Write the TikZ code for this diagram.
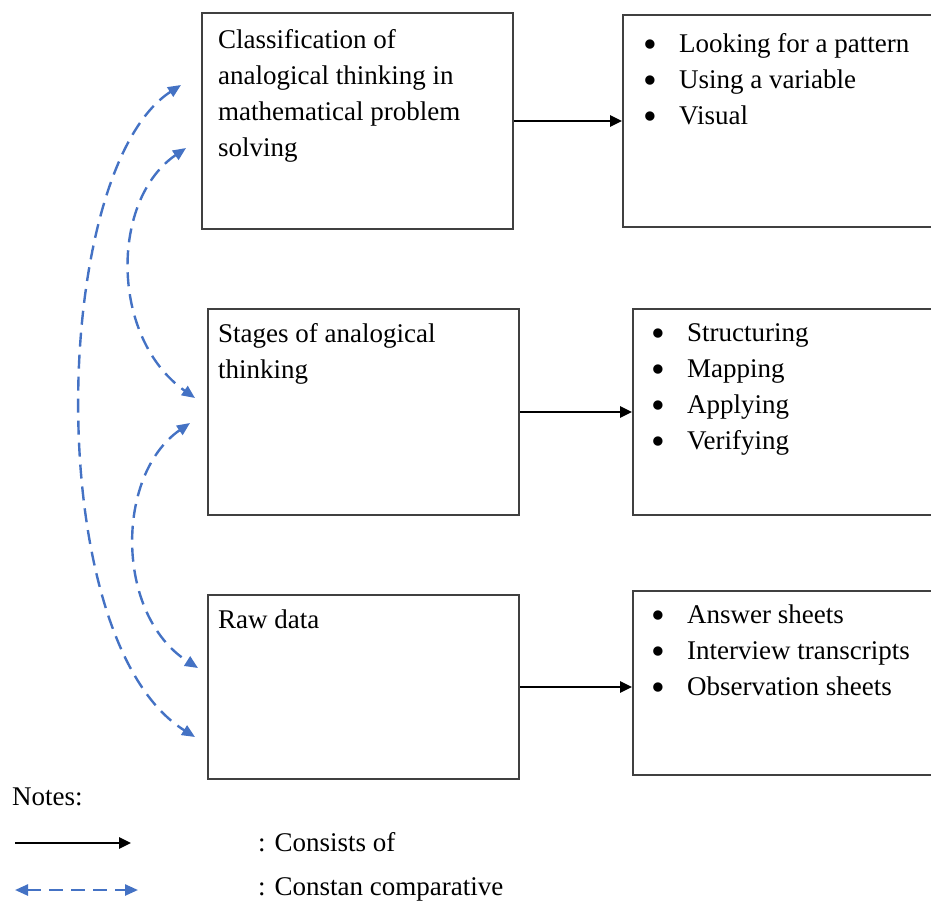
\documentclass[tikz,border=0pt]{standalone}
\usepackage{fontspec}
\setmainfont{Liberation Serif}
\usetikzlibrary{arrows.meta, positioning}
\definecolor{cmpblue}{RGB}{68,114,196}
\newcommand{\bul}{\makebox[36pt][l]{\raisebox{-5pt}{\scalebox{1.45}{\textbullet}}}}

\begin{document}
\begin{tikzpicture}[x=1pt, y=-1pt,
  box/.style={draw=black!75, line width=2pt, inner sep=0pt},
  txt/.style={anchor=north west, inner sep=0pt, align=left,
    font=\fontsize{27}{36}\selectfont},
  cons/.style={-{Triangle[length=12pt,width=11pt]}, line width=2.6pt},
  cmp/.style={{Triangle[length=13pt,width=11pt]}-{Triangle[length=13pt,width=11pt]},
    draw=cmpblue, line width=2.4pt, dash pattern=on 14pt off 8pt}]
\clip (0,0) rectangle (931,905);

% left column
\node[box, anchor=north west, minimum width=311pt, minimum height=216pt] (cls) at (201,12) {};
\node[box, anchor=north west, minimum width=311pt, minimum height=206pt] (stg) at (207,308) {};
\node[box, anchor=north west, minimum width=311pt, minimum height=184pt] (raw) at (207,594) {};

\node[txt] (clst) at (218,29) {Classification of\\analogical thinking in\\mathematical problem\\solving};
\node[txt] (stgt) at (218,323) {Stages of analogical\\thinking};
\node[txt] (rawt) at (218,610) {Raw data};

% right column
\node[box, anchor=north west, minimum width=340pt, minimum height=212pt] (pat) at (622,14) {};
\node[box, anchor=north west, minimum width=340pt, minimum height=206pt] (str) at (632,308) {};
\node[box, anchor=north west, minimum width=340pt, minimum height=184pt] (ans) at (632,590) {};

\node[txt] (patt) at (643,33) {\bul Looking for a pattern\\\bul Using a variable\\\bul Visual};
\node[txt] (strt) at (651,323) {\bul Structuring\\\bul Mapping\\\bul Applying\\\bul Verifying};
\node[txt] (anst) at (651,605) {\bul Answer sheets\\\bul Interview transcripts\\\bul Observation sheets};

\draw[cons] (cls.east) -- (cls.east -| pat.west);
\draw[cons] (stg.east) -- (stg.east -| str.west);
\draw[cons] (raw.east) -- (raw.east -| ans.west);

% constant comparative
\coordinate (a1) at (181,85);
\coordinate (a2) at (186,148);
\coordinate (b1) at (195,398);
\coordinate (b2) at (190,423);
\coordinate (c1) at (198,668);
\coordinate (c2) at (195,737);
\draw[cmp] (a1) .. controls (50,170) and (40,640) .. (c2);
\draw[cmp] (a2) .. controls (110,200) and (110,338) .. (b1);
\draw[cmp] (b2) .. controls (115,475) and (115,615) .. (c1);

% notes
\node[txt] (notes) at (12,788) {Notes:};
\coordinate (k1) at (15,843);
\coordinate (k2) at (131,843);
\coordinate (k3) at (15,890);
\coordinate (k4) at (138,890);
\draw[cons] (k1) -- (k2);
\draw[cmp] (k3) -- (k4);
\node[txt] (kc) at (258,832) {: Consists of};
\node[txt] (kv) at (258,877) {: Constan comparative};
\end{tikzpicture}
\end{document}
